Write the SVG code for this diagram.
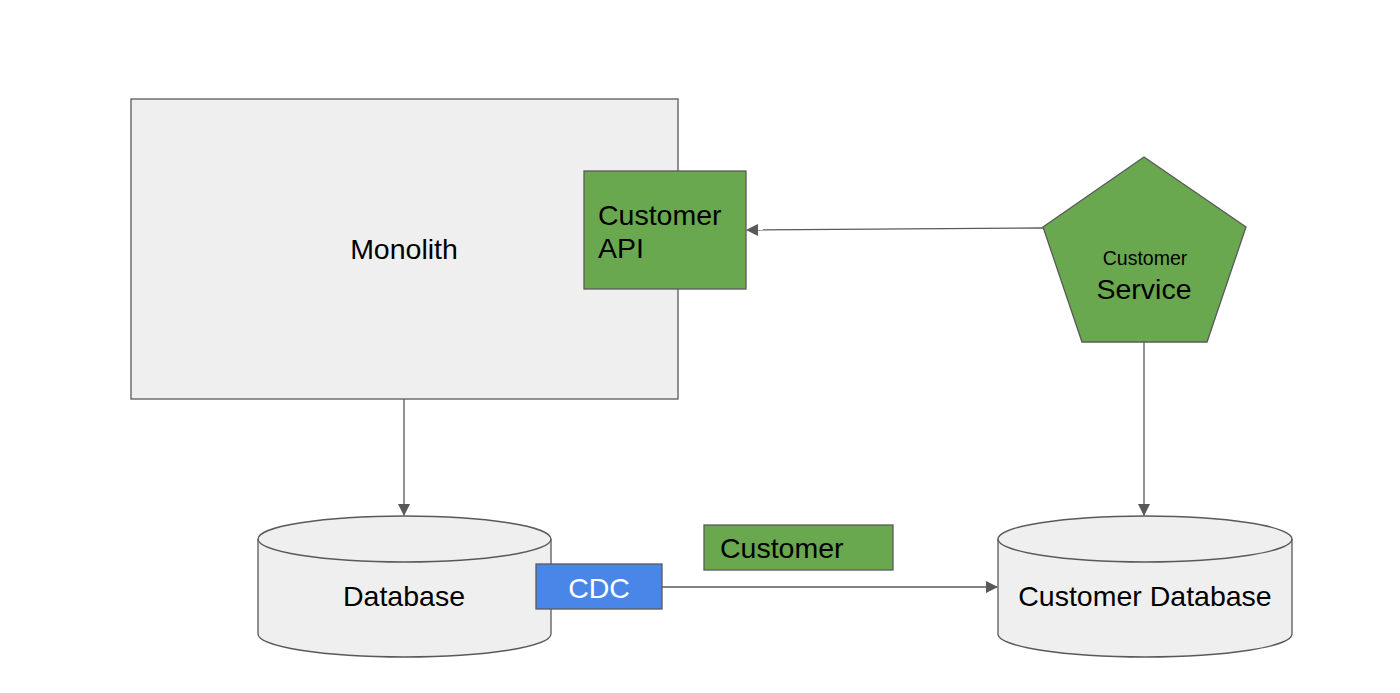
<svg xmlns="http://www.w3.org/2000/svg" width="1400" height="693" viewBox="0 0 1400 693">
<style>
.gray{fill:#efefef;stroke:#595959;stroke-width:1.3}
.green{fill:#6aa84f;stroke:#595959;stroke-width:1.3}
.blue{fill:#4a86e8;stroke:#595959;stroke-width:1.3}
.conn{fill:none;stroke:#595959;stroke-width:1.3}
text{font-family:"Liberation Sans",Arial,sans-serif;fill:#000}
.t26{font-size:28.5px}
</style>
<defs>
<marker id="arr" markerWidth="12" markerHeight="12" refX="11" refY="6" orient="auto" markerUnits="userSpaceOnUse" viewBox="0 0 12 12">
<path d="M0,0 L12,6 L0,12 z" fill="#595959"/>
</marker>
</defs>
<rect width="1400" height="693" fill="#fff"/>
<g id="connectors">
<line class="conn" x1="1043" y1="228" x2="747" y2="230" marker-end="url(#arr)"/>
<line class="conn" x1="404" y1="399" x2="404" y2="515" marker-end="url(#arr)"/>
<line class="conn" x1="1144" y1="342" x2="1144" y2="515" marker-end="url(#arr)"/>
<line class="conn" x1="662" y1="587" x2="997" y2="587" marker-end="url(#arr)"/>
</g>
<g id="monolith">
<rect class="gray" x="131" y="99" width="547" height="300"/>
<text class="t26" x="404" y="259" text-anchor="middle">Monolith</text>
</g>
<g id="customer-api">
<rect class="green" x="584" y="171" width="162" height="118"/>
<text class="t26" x="598" y="225">Customer</text>
<text class="t26" x="598" y="258">API</text>
</g>
<g id="customer-service">
<polygon class="green" points="1144,157 1246,227 1207,342 1082,342 1043,227"/>
<text x="1145" y="265" font-size="19.5" text-anchor="middle">Customer</text>
<text class="t26" x="1144" y="299" text-anchor="middle">Service</text>
</g>
<g id="database">
<path class="gray" d="M258,539 L258,634 A146.5,23 0 0 0 551,634 L551,539 A146.5,23 0 0 0 258,539 Z"/>
<path class="conn" d="M258,539 A146.5,23 0 0 0 551,539"/>
<text class="t26" x="404" y="606" text-anchor="middle">Database</text>
</g>
<g id="cdc">
<rect class="blue" x="536" y="564" width="126" height="45"/>
<text class="t26" x="599" y="598" text-anchor="middle" style="fill:#fff">CDC</text>
</g>
<g id="customer-label">
<rect class="green" x="704" y="525" width="189" height="45"/>
<text class="t26" x="720" y="558">Customer</text>
</g>
<g id="customer-database">
<path class="gray" d="M998,539 L998,634 A147,23 0 0 0 1292,634 L1292,539 A147,23 0 0 0 998,539 Z"/>
<path class="conn" d="M998,539 A147,23 0 0 0 1292,539"/>
<text class="t26" x="1145" y="606" text-anchor="middle">Customer Database</text>
</g>
</svg>
